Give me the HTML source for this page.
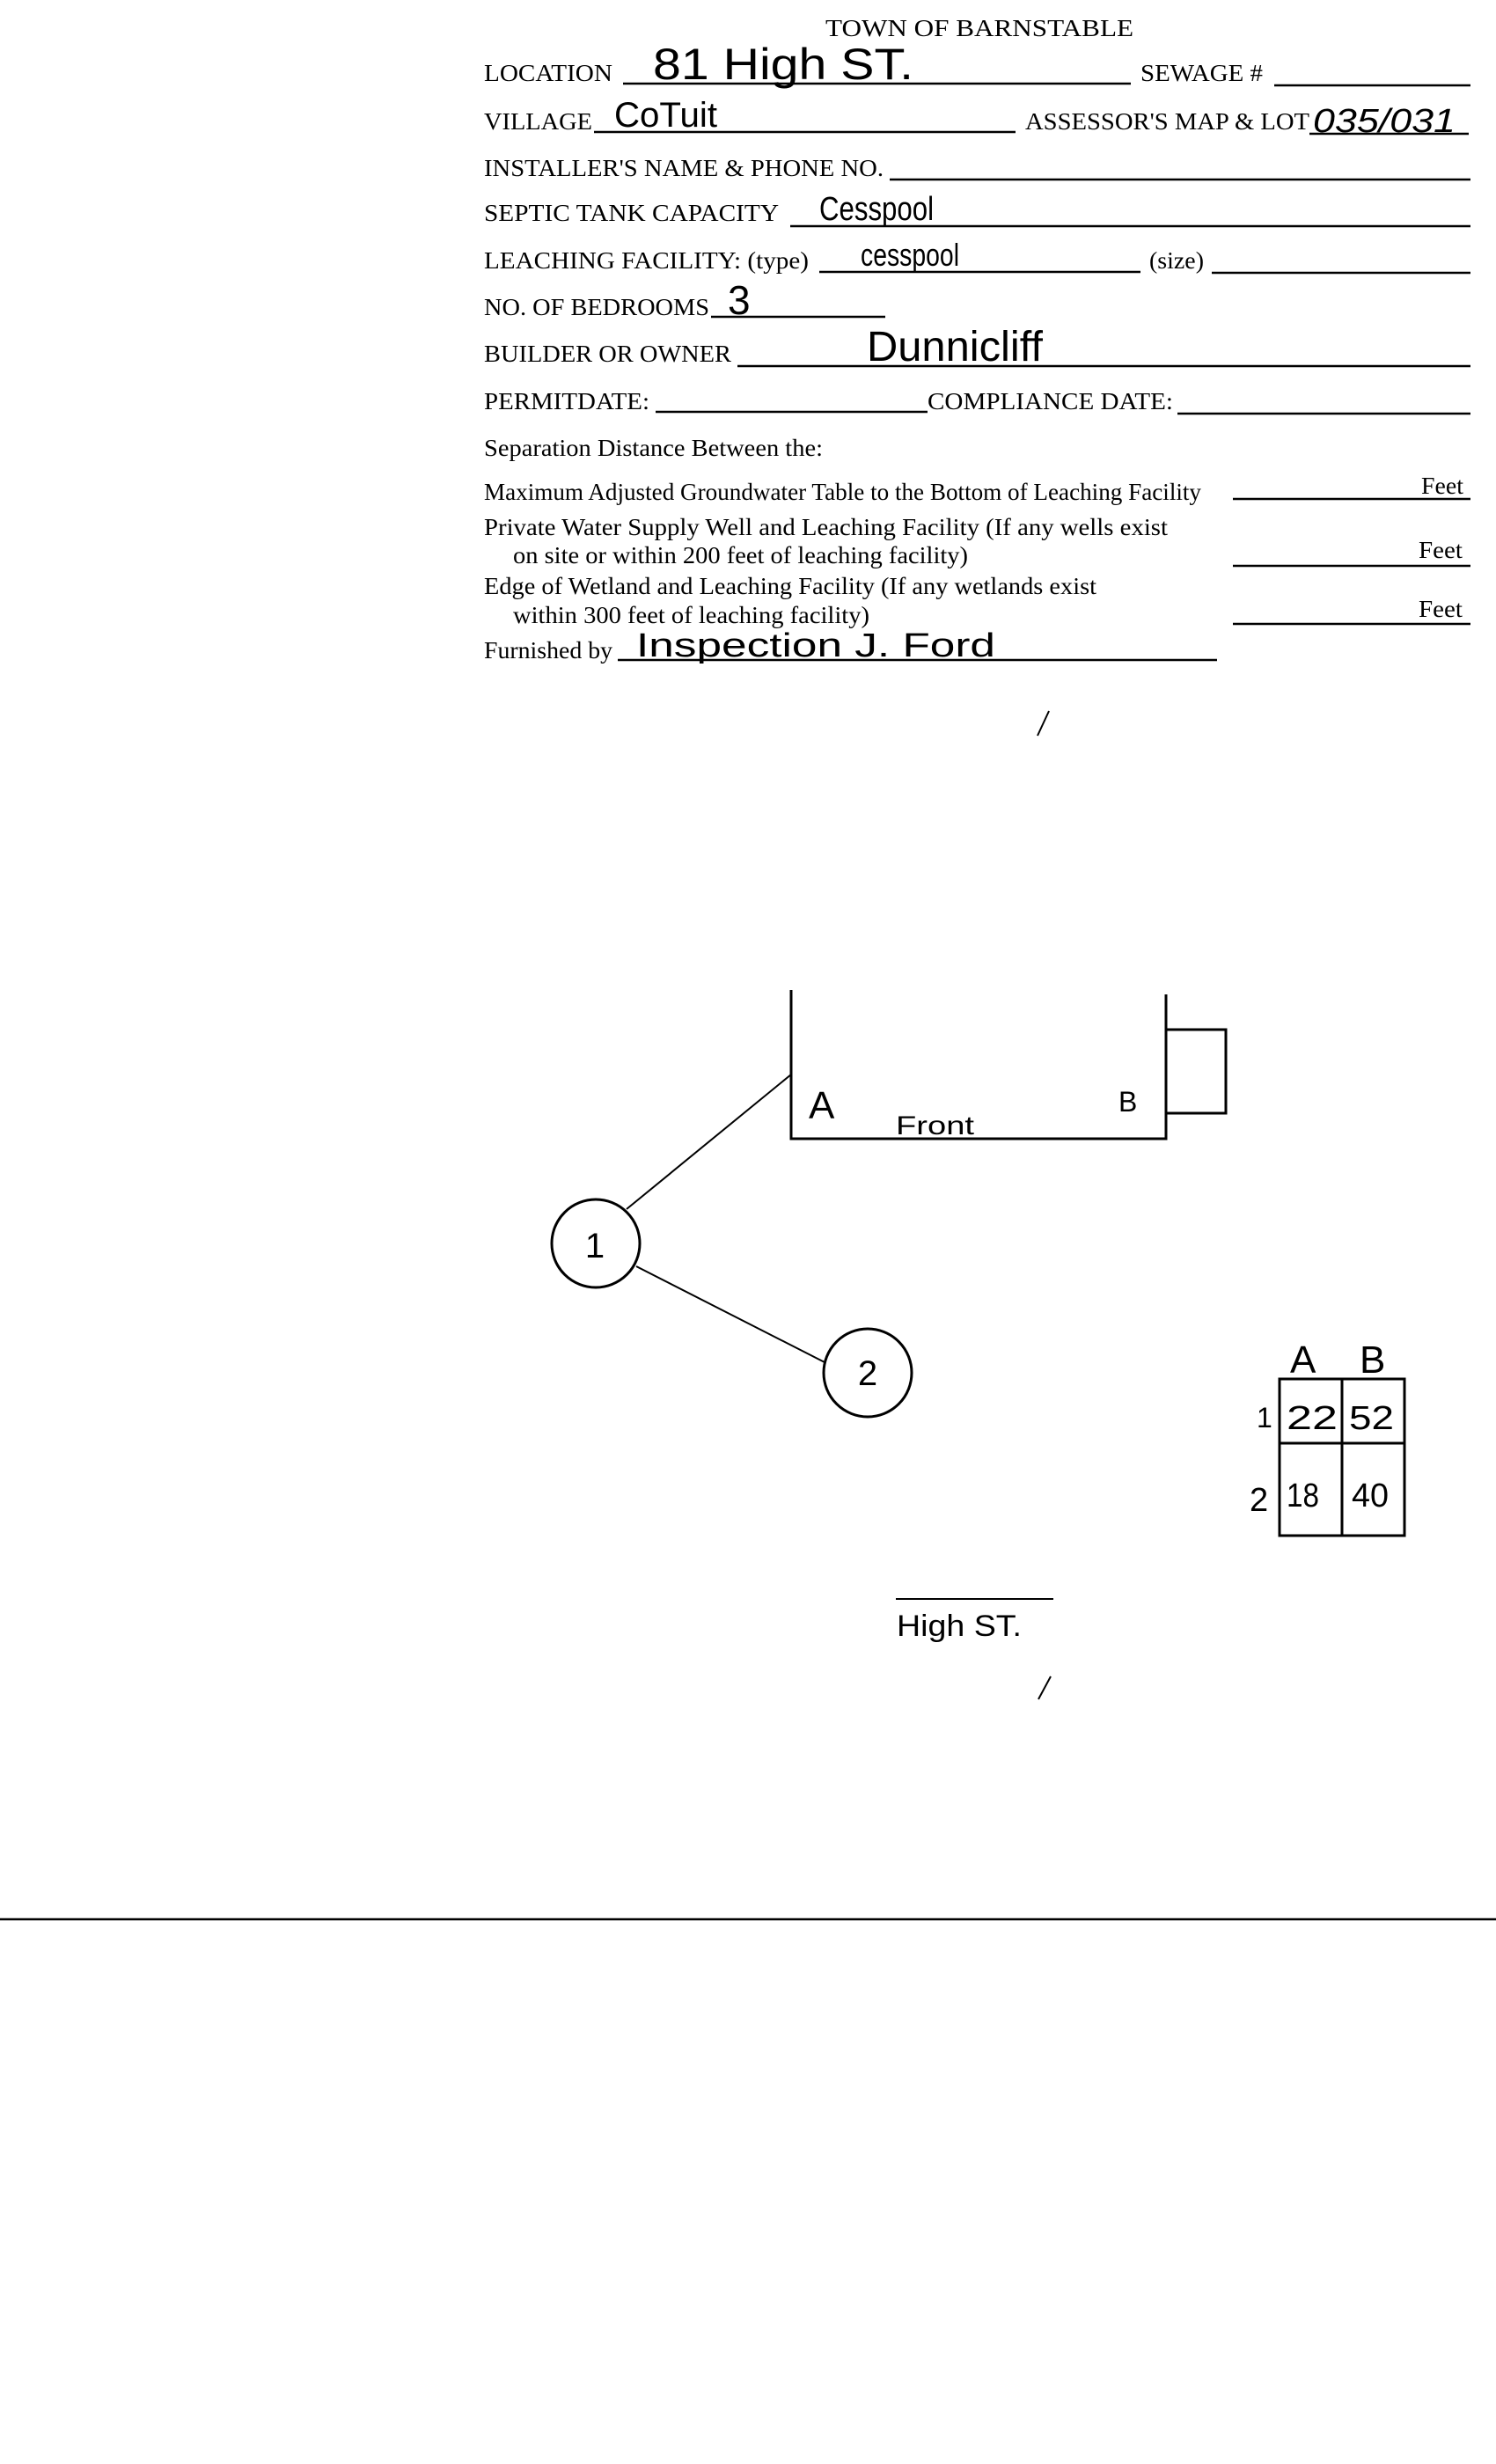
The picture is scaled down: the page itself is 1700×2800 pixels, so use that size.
<!DOCTYPE html>
<html><head><meta charset="utf-8"><style>
html,body{margin:0;padding:0;background:#fff;}
svg{display:block;}
.t{font-family:"Liberation Serif",serif;fill:#000;}
.h{font-family:"Liberation Sans",sans-serif;fill:#000;font-weight:normal;}
</style></head><body>
<svg width="1700" height="2800" viewBox="0 0 1700 2800" xmlns="http://www.w3.org/2000/svg">
<rect width="1700" height="2800" fill="#fff"/>
<g class="t" font-size="27">
<text x="938" y="41" textLength="350" lengthAdjust="spacingAndGlyphs">TOWN OF BARNSTABLE</text>
<text x="550" y="92" textLength="146" lengthAdjust="spacingAndGlyphs">LOCATION</text>
<text x="1296" y="92" textLength="139" lengthAdjust="spacingAndGlyphs">SEWAGE #</text>
<text x="550" y="147" textLength="123" lengthAdjust="spacingAndGlyphs">VILLAGE</text>
<text x="1165" y="147" textLength="323" lengthAdjust="spacingAndGlyphs">ASSESSOR'S MAP &amp; LOT</text>
<text x="550" y="200" textLength="454" lengthAdjust="spacingAndGlyphs">INSTALLER'S NAME &amp; PHONE NO.</text>
<text x="550" y="251" textLength="335" lengthAdjust="spacingAndGlyphs">SEPTIC TANK CAPACITY</text>
<text x="550" y="305" textLength="369" lengthAdjust="spacingAndGlyphs">LEACHING FACILITY: (type)</text>
<text x="1306" y="305" textLength="62" lengthAdjust="spacingAndGlyphs">(size)</text>
<text x="550" y="358" textLength="256" lengthAdjust="spacingAndGlyphs">NO. OF BEDROOMS</text>
<text x="550" y="411" textLength="281" lengthAdjust="spacingAndGlyphs">BUILDER OR OWNER</text>
<text x="550" y="465" textLength="188" lengthAdjust="spacingAndGlyphs">PERMITDATE:</text>
<text x="1054" y="465" textLength="279" lengthAdjust="spacingAndGlyphs">COMPLIANCE  DATE:</text>
<text x="550" y="518" textLength="385" lengthAdjust="spacingAndGlyphs">Separation Distance Between the:</text>
<text x="550" y="568" textLength="815" lengthAdjust="spacingAndGlyphs">Maximum Adjusted Groundwater Table to the Bottom of Leaching Facility</text>
<text x="1615" y="561" textLength="48" lengthAdjust="spacingAndGlyphs">Feet</text>
<text x="550" y="608" textLength="777" lengthAdjust="spacingAndGlyphs">Private Water Supply Well and Leaching Facility  (If any wells exist</text>
<text x="583" y="640" textLength="517" lengthAdjust="spacingAndGlyphs">on site or within 200 feet of leaching facility)</text>
<text x="1612" y="634" textLength="50" lengthAdjust="spacingAndGlyphs">Feet</text>
<text x="550" y="675" textLength="696" lengthAdjust="spacingAndGlyphs">Edge of Wetland and Leaching Facility (If any wetlands exist</text>
<text x="583" y="708" textLength="405" lengthAdjust="spacingAndGlyphs">within 300 feet of leaching facility)</text>
<text x="1612" y="701" textLength="50" lengthAdjust="spacingAndGlyphs">Feet</text>
<text x="550" y="748" textLength="146" lengthAdjust="spacingAndGlyphs">Furnished by</text>
</g>
<g stroke="#000" stroke-width="2.5" fill="none">
<line x1="708" y1="95" x2="1285" y2="95"/>
<line x1="1448" y1="97" x2="1671" y2="97"/>
<line x1="675" y1="150" x2="1154" y2="150"/>
<line x1="1488" y1="152" x2="1669" y2="152"/>
<line x1="1011" y1="204" x2="1671" y2="204"/>
<line x1="898" y1="257" x2="1671" y2="257"/>
<line x1="931" y1="309" x2="1296" y2="309"/>
<line x1="1377" y1="310" x2="1671" y2="310"/>
<line x1="808" y1="360" x2="1006" y2="360"/>
<line x1="838" y1="416" x2="1671" y2="416"/>
<line x1="745" y1="468" x2="1054" y2="468"/>
<line x1="1338" y1="470" x2="1671" y2="470"/>
<line x1="1401" y1="567" x2="1671" y2="567"/>
<line x1="1401" y1="643" x2="1671" y2="643"/>
<line x1="1401" y1="709" x2="1671" y2="709"/>
<line x1="702" y1="750" x2="1383" y2="750"/>
</g>
<g class="h">
<text x="742" y="90" font-size="50" textLength="296" lengthAdjust="spacingAndGlyphs">81  High  ST.</text>
<text x="698" y="144" font-size="40" textLength="117" lengthAdjust="spacingAndGlyphs">CoTuit</text>
<text x="1492" y="150" font-size="38" font-style="italic" textLength="162" lengthAdjust="spacingAndGlyphs">035/031</text>
<text x="931" y="250" font-size="38" textLength="130" lengthAdjust="spacingAndGlyphs">Cesspool</text>
<text x="978" y="302" font-size="36" textLength="112" lengthAdjust="spacingAndGlyphs">cesspool</text>
<text x="827" y="357" font-size="46">3</text>
<text x="985" y="410" font-size="48" textLength="200" lengthAdjust="spacingAndGlyphs">Dunnicliff</text>
<text x="723" y="746" font-size="38" textLength="408" lengthAdjust="spacingAndGlyphs">Inspection    J. Ford</text>
</g>
<g stroke="#000" stroke-width="3" fill="none">
<polyline points="899,1125 899,1294 1325,1294 1325,1130"/>
<polyline points="1325,1170 1393,1170 1393,1265 1325,1265"/>
<line x1="899" y1="1221" x2="712" y2="1374" stroke-width="2"/>
<circle cx="677" cy="1413" r="50"/>
<line x1="723" y1="1439" x2="937" y2="1548" stroke-width="2"/>
<circle cx="986" cy="1560" r="50"/>
<rect x="1454" y="1567" width="142" height="178"/>
<line x1="1525" y1="1567" x2="1525" y2="1745"/>
<line x1="1454" y1="1640" x2="1596" y2="1640"/>
<line x1="1018" y1="1817" x2="1197" y2="1817" stroke-width="2"/>
<line x1="0" y1="2181" x2="1700" y2="2181" stroke-width="2.5"/>
<line x1="1180" y1="1931" x2="1194" y2="1905" stroke-width="2"/>
<line x1="1179" y1="836" x2="1192" y2="808" stroke-width="2"/>
</g>
<g class="h">
<text x="676" y="1429" font-size="40" text-anchor="middle">1</text>
<text x="986" y="1574" font-size="40" text-anchor="middle">2</text>
<text x="919" y="1271" font-size="44">A</text>
<text x="1018" y="1289" font-size="30" textLength="89" lengthAdjust="spacingAndGlyphs">Front</text>
<text x="1271" y="1263" font-size="32">B</text>
<text x="1466" y="1560" font-size="44">A</text>
<text x="1545" y="1560" font-size="44">B</text>
<text x="1428" y="1622" font-size="32">1</text>
<text x="1420" y="1717" font-size="38">2</text>
<text x="1462" y="1624" font-size="38" textLength="58" lengthAdjust="spacingAndGlyphs">22</text>
<text x="1533" y="1624" font-size="38" textLength="51" lengthAdjust="spacingAndGlyphs">52</text>
<text x="1462" y="1712" font-size="38" textLength="37" lengthAdjust="spacingAndGlyphs">18</text>
<text x="1536" y="1712" font-size="38" textLength="42" lengthAdjust="spacingAndGlyphs">40</text>
<text x="1019" y="1859" font-size="34" textLength="142" lengthAdjust="spacingAndGlyphs">High  ST.</text>
</g>
</svg>
</body></html>
